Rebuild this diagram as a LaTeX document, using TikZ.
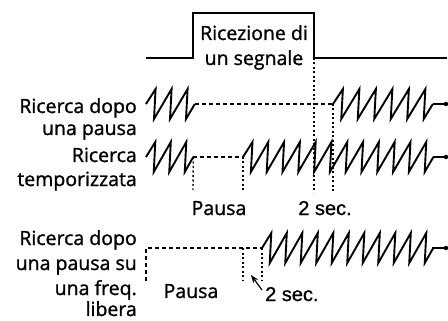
\documentclass[tikz,border=0pt]{standalone}
\usepackage{fontspec}
\setmainfont{Open Sans}[RawFeature={embolden=1.2}]
\newfontfamily\helvf{Liberation Sans}[RawFeature={embolden=1.0}]
\usetikzlibrary{arrows.meta}
% zigzag: x0, teeth, period, centre y, half amplitude
\newcommand\zigrow[5]{%
  \draw[zz] (#1,#4) \foreach \k in {1,...,#2} { -- ({#1+(\k-0.4)*#3},{#4-#5}) -- ({#1+(\k-0.5)*#3},{#4+#5}) } -- ({#1+(#2+0.05)*#3},#4);
}
\begin{document}
\begin{tikzpicture}[x=1pt,y=-1pt,
  lbl/.style={font=\fontsize{19.5}{23}\selectfont, inner sep=0pt},
  sec/.style={font=\helvf\fontsize{20}{22}\selectfont, inner sep=0pt},
  sig/.style={line width=1.3pt},
  zz/.style={line width=1.9pt, line join=miter},
  dsh/.style={line width=1.3pt, dash pattern=on 4pt off 3pt},
  dtt/.style={line width=1.4pt, dash pattern=on 2pt off 2.5pt},
  enddot/.style={circle, fill, inner sep=0pt, minimum size=4.5pt}]
\useasboundingbox (0,0) rectangle (448,321);

% received signal
\coordinate (s0) at (146,58);
\coordinate (s1) at (193,58);
\coordinate (s2) at (193,13);
\coordinate (s3) at (314,13);
\coordinate (s4) at (314,58);
\coordinate (s5) at (447,58);
\draw[sig] (s0) -- (s1) -- (s2) -- (s3) -- (s4) -- (s5);
\node[lbl, anchor=base] (rx1) at (254,40) {Ricezione di};
\node[lbl, anchor=base] (rx2) at (254,65) {un segnale};

% left labels
\node[lbl, anchor=base east] (l1a) at (137,113) {Ricerca dopo};
\node[lbl, anchor=base east] (l1b) at (137,135) {una pausa};
\node[lbl, anchor=base east] (l2a) at (137,162) {Ricerca};
\node[lbl, anchor=base east] (l2b) at (137,186) {temporizzata};
\node[lbl, anchor=base east] (l3a) at (137,245) {Ricerca dopo};
\node[lbl, anchor=base east] (l3b) at (137,270) {una pausa su};
\node[lbl, anchor=base east] (l3c) at (137,295) {una freq.};
\node[lbl, anchor=base east] (l3d) at (137,316) {libera};

% row 1
\zigrow{146}{3}{16}{104}{15}
\coordinate (r1a) at (194.8,104);
\coordinate (r1b) at (333,104);
\draw[dsh] (r1a) -- (r1b);
\zigrow{333}{6}{16.5}{104}{15}
\coordinate (r1e) at (432.8,104);
\node[enddot] (d1) at (446,104) {};
\draw[zz] (r1e) -- (d1.center);

% row 2
\zigrow{146}{3}{15.5}{157}{15}
\coordinate (r2a) at (193.3,157);
\coordinate (r2b) at (243,157);
\draw[dsh] (r2a) -- (r2b);
\zigrow{243}{12}{15.8}{157}{15}
\coordinate (r2e) at (433.4,157);
\node[enddot] (d2) at (446,157) {};
\draw[zz] (r2e) -- (d2.center);

% row 2 markers
\coordinate (v1b) at (193,190);
\coordinate (v2b) at (243,190);
\draw[dtt] (r2a) -- (v1b);
\draw[dtt] (r2b) -- (v2b);
\coordinate (v3b) at (314,193);
\coordinate (v4b) at (333,193);
\draw[dtt] (s4) -- (v3b);
\draw[dtt] (r1b) -- (v4b);
\node[lbl, anchor=base] (p1) at (219,215) {Pausa};
\node[sec, anchor=base] (t1) at (325,215) {2 sec.};

% row 3
\coordinate (r3s) at (146,281);
\coordinate (r3a) at (146,248);
\coordinate (r3m) at (243,248);
\coordinate (r3b) at (262,248);
\draw[dsh] (r3s) -- (r3a) -- (r3b);
\coordinate (r3mb) at (243,281);
\coordinate (r3bb) at (262,281);
\draw[dtt] (r3m) -- (r3mb);
\draw[dtt] (r3b) -- (r3bb);
\zigrow{262}{11}{15.5}{248}{15}
\coordinate (r3e) at (432.3,248);
\node[enddot] (d3) at (446,248) {};
\draw[zz] (r3e) -- (d3.center);
\node[lbl, anchor=base] (p2) at (191,298) {Pausa};
\node[sec, anchor=base west] (t2) at (265,301) {2 sec.};
\coordinate (arT) at (262,290);
\coordinate (arH) at (251,275);
\draw[line width=1.2pt, -{Stealth[length=8pt,width=6pt]}] (arT) -- (arH);
\end{tikzpicture}
\end{document}
